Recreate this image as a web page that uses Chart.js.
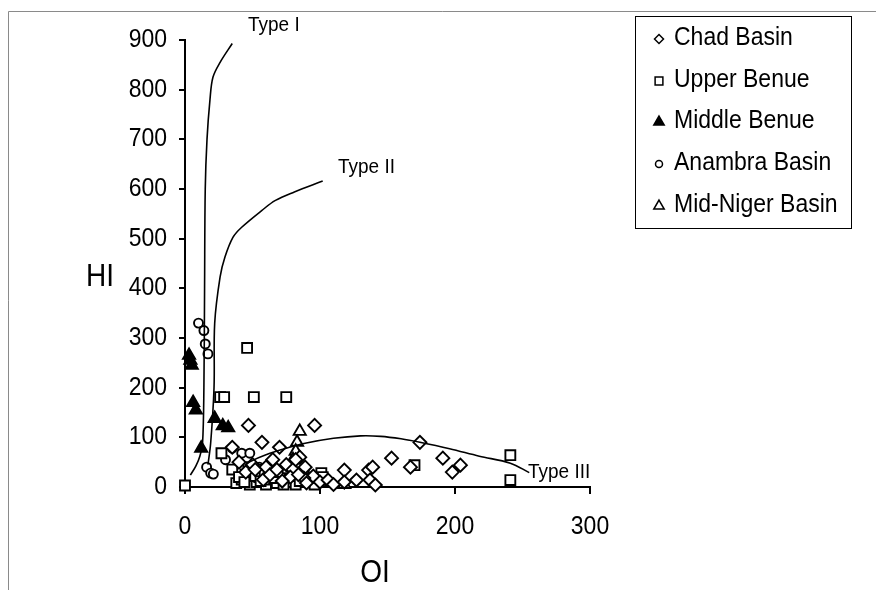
<!DOCTYPE html>
<html>
<head>
<meta charset="utf-8">
<script src="https://cdn.jsdelivr.net/npm/chart.js@4.4.0/dist/chart.umd.min.js"></script>
<style>
  body { margin: 0; background: #fff; }
  #wrap { width: 876px; height: 590px; position: relative; }
</style>
</head>
<body>
<div id="wrap"><canvas id="hiOi" width="876" height="590"></canvas></div>
<script>
// OI vs HI points, one array per basin
const chadBasin = [
    [47, 124], [57, 90], [35, 80], [70, 80], [96, 124], [89, 40], [95, 22], [100, 10],
    [106, 14], [110, 5], [118, 34], [118, 10], [127, 14], [136, 34], [139, 40], [137, 14],
    [141, 4], [153, 58], [167, 40], [174, 90], [191, 58], [198, 30], [204, 44],
    [40, 50], [50, 45], [60, 40], [65, 55], [75, 45], [80, 35], [85, 60], [88, 18], [78, 20], [82, 55],
    [45, 30], [52, 35], [58, 15], [63, 25], [68, 35], [72, 12], [84, 25], [90, 8]
];
const upperBenue = [
    [0, 3], [27, 68], [35, 35], [38, 8], [42, 15], [45, 25], [48, 5], [50, 30], [53, 10],
    [55, 20], [58, 35], [60, 5], [62, 15], [65, 28], [68, 8], [72, 20], [75, 10], [78, 30],
    [82, 5], [101, 28], [102, 20], [170, 44], [241, 64], [241, 14],
    [46, 280], [26, 181], [29, 181], [51, 181], [75, 181],
    [40, 20], [44, 10], [47, 40], [52, 22], [56, 12], [59, 28], [63, 38], [66, 18], [70, 30],
    [73, 5], [76, 38], [80, 22], [85, 12], [88, 28], [92, 18], [96, 5]
];
const middleBenue = [
    [3, 265], [4, 255], [5, 245], [6, 170], [8, 155], [12, 78], [22, 138], [28, 123], [32, 119],
    [70, 15], [75, 10], [80, 12]
];
const anambraBasin = [
    [10, 330], [14, 315], [15, 288], [17, 268], [16, 40], [19, 28], [21, 26],
    [35, 78], [42, 68], [48, 68], [30, 55], [55, 40], [60, 30], [45, 20], [52, 15], [65, 20]
];
const midNigerBasin = [
    [85, 112], [83, 90], [82, 72], [80, 55], [78, 40], [118, 5], [100, 8]
];

// kerogen type boundary curves
const typeOne = [[4, 24], [8, 42], [11, 62], [13, 88], [14, 200], [14.5, 400], [15, 600],
    [16.3, 700], [18.5, 780], [20.7, 825], [26, 855], [35, 893]];
const typeTwo = [[17, 45], [19, 88], [21.5, 200], [22, 330], [26, 423], [29.6, 463],
    [35.6, 503], [42, 523], [57, 557], [67, 577], [81, 594], [102, 616]];
const typeThree = [[45, 45], [48, 51], [60, 65], [75, 78], [89, 88], [110, 98], [130, 103],
    [145, 102], [160, 97], [174, 90], [196, 77], [218, 62], [241, 48], [255, 29]];

const xTicks = [0, 100, 200, 300];
const yTicks = [0, 100, 200, 300, 400, 500, 600, 700, 800, 900];

const toXY = arr => arr.map(p => ({ x: p[0], y: p[1] }));

const series = [
    { label: "Chad Basin", data: chadBasin, style: "rectRot", r: 6.5, fill: "#fff", lr: 4.5 },
    { label: "Upper Benue", data: upperBenue, style: "rect", r: 7, fill: "#fff", lr: 5.5 },
    { label: "Middle Benue", data: middleBenue, style: "triangle", r: 7, fill: "#000", lr: 6 },
    { label: "Anambra Basin", data: anambraBasin, style: "circle", r: 4.5, fill: "#fff", lr: 3.5 },
    { label: "Mid-Niger Basin", data: midNigerBasin, style: "triangle", r: 7, fill: "#fff", lr: 6 }
];

const curves = [
    { data: typeOne, name: "Type I", tx: 248, ty: 25 },
    { data: typeTwo, name: "Type II", tx: 338, ty: 167 },
    { data: typeThree, name: "Type III", tx: 528, ty: 472 }
];

const datasets = [];
curves.forEach(c => {
    datasets.push({
        type: "line",
        data: toXY(c.data),
        borderColor: "#000",
        borderWidth: 1.6,
        pointRadius: 0,
        tension: 0.35,
        fill: false,
        clip: false
    });
});
series.forEach(s => {
    datasets.push({
        type: "scatter",
        label: s.label,
        data: toXY(s.data),
        pointStyle: s.style,
        pointRadius: s.r,
        pointBackgroundColor: s.fill,
        pointBorderColor: "#000",
        pointBorderWidth: 1.9,
        clip: false
    });
});

const FONT = '"Liberation Sans", Arial, sans-serif';
const SY = 1.1; // the original text is a bit taller than wide

function tallText(ctx, text, x, y, size, align) {
    ctx.save();
    ctx.font = size + "px " + FONT;
    ctx.textAlign = align;
    ctx.textBaseline = "middle";
    ctx.translate(x, y);
    ctx.scale(1, SY);
    ctx.fillText(text, 0, 0);
    ctx.restore();
}

// tick labels, frame, axis titles, curve labels and the boxed legend
const decorations = {
    id: "decorations",
    afterDraw(chart) {
        const ctx = chart.ctx;
        const xs = chart.scales.x, ys = chart.scales.y;
        ctx.save();
        ctx.strokeStyle = "#8a8a8a";
        ctx.lineWidth = 1;
        ctx.beginPath();
        ctx.moveTo(8.5, 590);
        ctx.lineTo(8.5, 11.5);
        ctx.lineTo(876, 11.5);
        ctx.stroke();

        ctx.fillStyle = "#000";
        xTicks.forEach(v => tallText(ctx, String(v), xs.getPixelForValue(v), 527, 23, "center"));
        yTicks.forEach(v => tallText(ctx, String(v), 167, ys.getPixelForValue(v), 23, "right"));

        tallText(ctx, "HI", 100, 278, 28, "center");
        tallText(ctx, "OI", 375, 574, 28, "center");
        curves.forEach(c => tallText(ctx, c.name, c.tx, c.ty, 19, "left"));

        // legend
        ctx.strokeStyle = "#000";
        ctx.lineWidth = 1;
        ctx.fillStyle = "#fff";
        ctx.fillRect(635.5, 16.5, 216, 212);
        ctx.strokeRect(635.5, 16.5, 216, 212);
        const rows = [38, 80, 121, 163, 205];
        series.forEach((s, i) => {
            ctx.fillStyle = s.fill;
            ctx.strokeStyle = "#000";
            ctx.lineWidth = 1.5;
            Chart.helpers.drawPoint(ctx, { pointStyle: s.style, radius: s.lr, borderWidth: 1.5 }, 659, rows[i] + 1);
            ctx.fillStyle = "#000";
            tallText(ctx, s.label, 674, rows[i], 23, "left");
        });
        ctx.restore();
    }
};

new Chart(document.getElementById("hiOi").getContext("2d"), {
    type: "scatter",
    data: { datasets: datasets },
    plugins: [decorations],
    options: {
        responsive: false,
        animation: false,
        devicePixelRatio: 1,
        layout: { padding: { top: 40, right: 286, left: 0, bottom: 0 } },
        plugins: {
            legend: { display: false },
            tooltip: { enabled: false }
        },
        scales: {
            x: {
                type: "linear",
                min: 0,
                max: 300,
                afterFit: s => { s.height = 103; },
                afterBuildTicks: s => { s.ticks = xTicks.map(v => ({ value: v })); },
                border: { display: true, color: "#000", width: 2 },
                grid: { drawOnChartArea: false, drawTicks: true, tickLength: 7, color: "#000", lineWidth: 2 },
                ticks: { display: false }
            },
            y: {
                type: "linear",
                min: 0,
                max: 900,
                afterFit: s => { s.width = 185; },
                afterBuildTicks: s => { s.ticks = yTicks.map(v => ({ value: v })); },
                border: { display: true, color: "#000", width: 2 },
                grid: { drawOnChartArea: false, drawTicks: true, tickLength: 6, color: "#000", lineWidth: 2 },
                ticks: { display: false }
            }
        }
    }
});
</script>
</body>
</html>
